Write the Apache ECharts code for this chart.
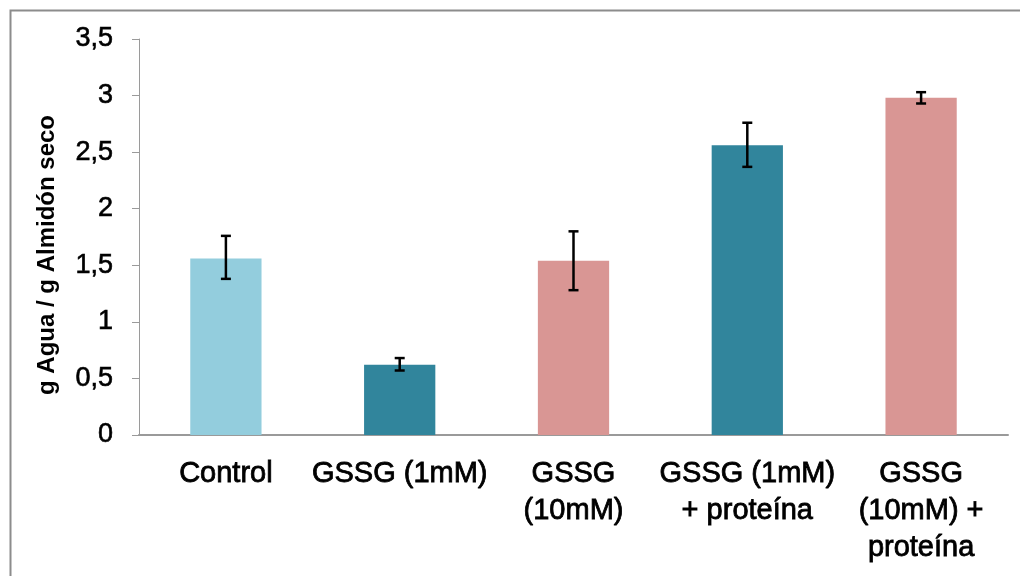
<!DOCTYPE html>
<html>
<head>
<meta charset="utf-8">
<script src="https://cdn.jsdelivr.net/npm/echarts@6/dist/echarts.min.js"></script>
<style>
html,body{margin:0;padding:0;background:#fff;}
#c{width:1020px;height:576px;}
</style>
</head>
<body>
<div id="c"></div>
<script>
var categories = ['Control', 'GSSG (1mM)', 'GSSG\n(10mM)', 'GSSG (1mM)\n+ proteína', 'GSSG\n(10mM) +\nproteína'];
var values = [1.56, 0.62, 1.54, 2.56, 2.98];
var errLow = [1.38, 0.57, 1.28, 2.37, 2.93];
var errHigh = [1.76, 0.68, 1.80, 2.76, 3.03];
var barColors = ['#93CDDD', '#31859C', '#D99694', '#31859C', '#D99694'];
var yTicks = [0, 0.5, 1, 1.5, 2, 2.5, 3, 3.5];
var yTitle = 'g Agua / g Almidón seco';

var chart = echarts.init(document.getElementById('c'));
var font = '"Liberation Sans", Arial, sans-serif';
chart.setOption({
  animation: false,
  backgroundColor: '#ffffff',
  grid: {left: 139, right: 12, top: 39, bottom: 141, containLabel: false},
  graphic: [
    {type: 'rect', left: 8, top: 8, shape: {width: 1040, height: 620},
     style: {fill: 'none', stroke: '#8c8c8c', lineWidth: 2}, silent: true},
    {type: 'text', x: 35, y: 255, rotation: Math.PI / 2,
     style: {text: yTitle, font: 'bold 24px ' + font, fill: '#000',
             textAlign: 'center', textVerticalAlign: 'top'}}
  ],
  xAxis: {
    type: 'category',
    data: categories,
    axisLine: {lineStyle: {color: '#9a9a9a', width: 2}},
    axisTick: {show: false},
    axisLabel: {color: '#000', fontFamily: font, fontSize: 29, lineHeight: 37, margin: 20, interval: 0,
      textBorderColor: '#000', textBorderWidth: 0.8}
  },
  yAxis: {
    type: 'value',
    min: 0, max: 3.5, interval: 0.5,
    splitLine: {show: false},
    axisLine: {show: true, lineStyle: {color: '#9a9a9a', width: 1}},
    axisTick: {show: true, length: 7, lineStyle: {color: '#9a9a9a'}},
    axisLabel: {color: '#000', fontFamily: font, fontSize: 27, margin: 26,
      textBorderColor: '#000', textBorderWidth: 0.6,
      formatter: function (v) { return String(v).replace('.', ','); }}
  },
  series: [
    {
      type: 'bar',
      barWidth: '41%',
      data: values.map(function (v, i) { return {value: v, itemStyle: {color: barColors[i]}}; })
    },
    {
      type: 'custom',
      data: categories.map(function (c, i) { return [i, errLow[i], errHigh[i]]; }),
      z: 10,
      renderItem: function (params, api) {
        var lo = api.coord([api.value(0), api.value(1)]);
        var hi = api.coord([api.value(0), api.value(2)]);
        var w = 5;
        var st = {stroke: '#000', lineWidth: 2.5};
        return {type: 'group', children: [
          {type: 'line', shape: {x1: hi[0], y1: hi[1], x2: lo[0], y2: lo[1]}, style: st},
          {type: 'line', shape: {x1: hi[0] - w, y1: hi[1], x2: hi[0] + w, y2: hi[1]}, style: st},
          {type: 'line', shape: {x1: lo[0] - w, y1: lo[1], x2: lo[0] + w, y2: lo[1]}, style: st}
        ]};
      }
    }
  ]
});
</script>
</body>
</html>
